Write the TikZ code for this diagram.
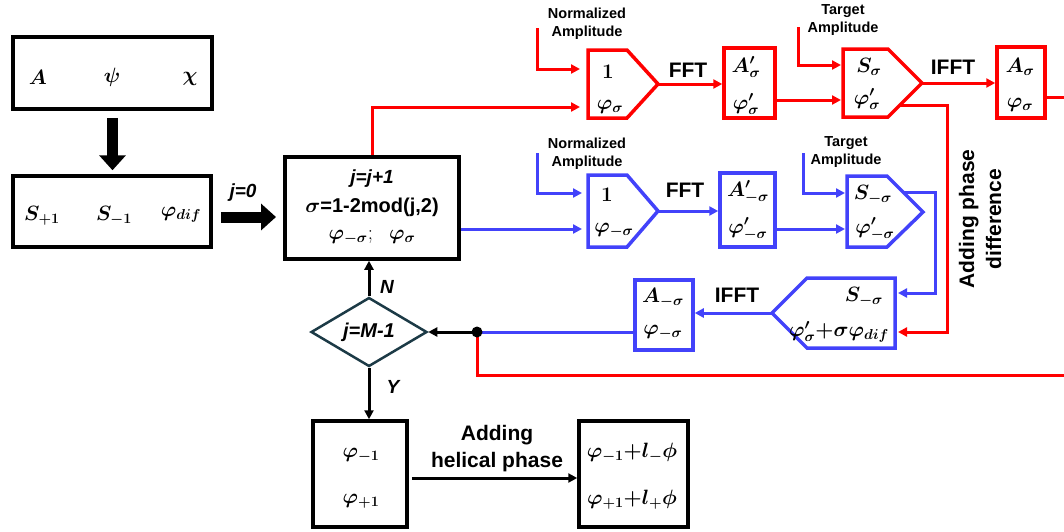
\documentclass[tikz,border=0pt]{standalone}
\usepackage{amsmath,bm}
\usepackage{fontspec}
\newfontfamily\arial{Liberation Sans}
\usetikzlibrary{arrows.meta,shapes.geometric,calc}
\definecolor{myred}{RGB}{255,0,0}
\definecolor{myblue}{RGB}{66,66,250}
\definecolor{dslate}{RGB}{28,58,70}
\tikzset{
 box/.style={draw, line width=3.5pt, inner sep=0pt},
 rbox/.style={box, draw=myred},
 bbox/.style={box, draw=myblue},
 mth/.style={inner sep=0pt, font=\fontsize{20.74}{24}\selectfont},
 bigm/.style={inner sep=0pt, font=\fontsize{20.74}{24}\selectfont},
 lab/.style={inner sep=0pt, font=\arial\bfseries\fontsize{21}{27}\selectfont, align=center},
 slab/.style={inner sep=0pt, font=\arial\bfseries\fontsize{14.5}{18}\selectfont, align=center},
 ilab/.style={inner sep=0pt, font=\arial\bfseries\itshape\fontsize{19}{22}\selectfont},
 tip/.style={-{Triangle[length=9pt,width=9pt]}},
 rline/.style={draw=myred, line width=3pt},
 bline/.style={draw=myblue, line width=3pt},
 kline/.style={draw=black, line width=3pt},
 bigarrow/.style={line width=11pt, -{Triangle[length=15pt,width=26pt]}},
 pent/.style={line width=3.5pt, line join=miter},
}
\begin{document}
\begin{tikzpicture}[x=1pt,y=-1pt]
\useasboundingbox (0,0) rectangle (1064,531);

% ---- left boxes
\node[box, minimum width=199pt, minimum height=72pt] (b1) at (112.5,73) {};
\node[bigm] (tA) at (38,77) {$\bm{A}$};
\node[bigm] (tpsi) at (112,77) {$\bm{\psi}$};
\node[bigm] (tchi) at (190,79) {$\bm{\chi}$};

\node[box, minimum width=198pt, minimum height=71pt] (b2) at (112,211.5) {};
\node[bigm] (tS1) at (42,216) {$\bm{S_{+1}}$};
\node[bigm] (tS2) at (114,216) {$\bm{S_{-1}}$};
\node[bigm] (tpd) at (181,215) {$\bm{\varphi_{dif}}$};

\draw[bigarrow, shorten <=7pt, shorten >=4pt] (b1.south) -- (b1.south |- b2.north);

\coordinate (j0) at (0,217);
\draw[bigarrow, shorten <=8pt, shorten >=9pt] (b2.east |- j0) -- (285,217) coordinate (j0e);
\node[ilab] (lj0) at (243,193) {j=0};

% ---- middle box
\node[box, minimum width=174pt, minimum height=102pt] (mid) at (372,208) {};
\node[ilab] (mj) at (372,179) {j=j+1};
\node[inner sep=0pt, font=\arial\bfseries\fontsize{20}{22}\selectfont] (ms) at (372,207) {$\bm{\sigma}$=1-2mod(j,2)};
\node[bigm] (mp) at (372,237) {$\bm{\varphi_{-\sigma}};\ \ \bm{\varphi_\sigma}$};

% ---- red row
\draw[pent, draw=myred] (588,50) -- (627,50) -- (658,84) -- (627,118) -- (588,118) -- cycle;
\coordinate (p1t) at (658,84);
\coordinate (p1a) at (580,69);
\coordinate (p1b) at (580,107);
\node[mth] (p1x) at (608,72) {$\bm{1}$};
\node[mth] (p1y) at (610,107) {$\bm{\varphi_\sigma}$};

\node[rbox, minimum width=51pt, minimum height=70pt] (r1) at (749.5,83) {};
\node[mth] (r1x) at (746,67) {$\bm{A'_\sigma}$};
\node[mth] (r1y) at (746,104) {$\bm{\varphi'_\sigma}$};

\draw[pent, draw=myred] (843,49) -- (888,49) -- (922,83) -- (888,117) -- (843,117) -- cycle;
\coordinate (p2t) at (922,83);
\coordinate (p2a) at (841,65);
\coordinate (p2b) at (841,100);
\coordinate (p2o) at (900,105);
\node[mth] (p2x) at (869,67) {$\bm{S_\sigma}$};
\node[mth] (p2y) at (867,99) {$\bm{\varphi'_\sigma}$};

\node[rbox, minimum width=48pt, minimum height=71pt] (r2) at (1021,82.5) {};
\node[mth] (r2x) at (1020,67) {$\bm{A_\sigma}$};
\node[mth] (r2y) at (1020,105) {$\bm{\varphi_\sigma}$};

\node[lab] (fft1) at (688,70) {FFT};
\node[lab] (ifft1) at (953,67) {IFFT};
\node[slab] (nl1) at (587,24) {Normalized\\Amplitude};
\node[slab] (tl1) at (843,20) {Target\\Amplitude};

\coordinate (n1) at (537,28);
\coordinate (n2) at (798,27);
\draw[rline, tip] (mid.north) |- (p1b);
\draw[rline, tip] (n1) |- (p1a);
\draw[rline, tip] (p1t) -- (r1.west |- p1t);
\draw[rline, tip] (r1.east |- p2b) -- (p2b);
\draw[rline, tip] (n2) |- (p2a);
\draw[rline, tip] (p2t) -- (r2.west |- p2t);

% ---- blue row
\draw[pent, draw=myblue] (588,175) -- (627,175) -- (658,211) -- (627,247) -- (588,247) -- cycle;
\coordinate (p3t) at (658,211);
\coordinate (p3a) at (582,193);
\coordinate (p3b) at (582,229);
\node[mth] (p3x) at (607,195) {$\bm{1}$};
\node[mth] (p3y) at (614,230) {$\bm{\varphi_{-\sigma}}$};

\node[bbox, minimum width=55pt, minimum height=74pt] (b3) at (747.5,210) {};
\node[mth] (b3x) at (748,192) {$\bm{A'_{-\sigma}}$};
\node[mth] (b3y) at (748,229) {$\bm{\varphi'_{-\sigma}}$};

\draw[pent, draw=myblue] (847,176) -- (887,176) -- (923,212) -- (887,247) -- (847,247) -- cycle;
\coordinate (p4t) at (923,212);
\coordinate (p4a) at (845,193);
\coordinate (p4b) at (845,229);
\coordinate (p4o) at (903,192);
\node[mth] (p4x) at (873,195) {$\bm{S_{-\sigma}}$};
\node[mth] (p4y) at (875,229) {$\bm{\varphi'_{-\sigma}}$};

\draw[pent, draw=myblue] (895,278) -- (807,278) -- (772,313) -- (807,348) -- (895,348) -- cycle;
\coordinate (p5t) at (772,313);
\coordinate (p5a) at (898,293);
\coordinate (p5b) at (898,332);
\node[mth] (p5x) at (864,297) {$\bm{S_{-\sigma}}$};
\node[mth] (p5y) at (839,332) {$\bm{\varphi'_\sigma{+}\sigma\varphi_{dif}}$};

\node[bbox, minimum width=58pt, minimum height=70pt] (b4) at (664,315) {};
\node[mth] (b4x) at (663,298) {$\bm{A_{-\sigma}}$};
\node[mth] (b4y) at (663,332) {$\bm{\varphi_{-\sigma}}$};

\node[lab] (fft2) at (685,190) {FFT};
\node[lab] (ifft2) at (737,295) {IFFT};
\node[slab] (nl3) at (587,154) {Normalized\\Amplitude};
\node[slab] (tl4) at (846,152) {Target\\Amplitude};
\node[lab, rotate=90] (apd) at (980,219) {Adding phase\\difference};

\coordinate (n3) at (537,153);
\coordinate (n4) at (803,153);
\coordinate (bx) at (935,0);
\coordinate (rx) at (947,0);
\coordinate (dot) at (477,332);

\draw[bline, tip] (mid.east |- p3b) -- (p3b);
\draw[bline, tip] (n3) |- (p3a);
\draw[bline, tip] (p3t) -- (b3.west |- p3t);
\draw[bline, tip] (b3.east |- p4b) -- (p4b);
\draw[bline, tip] (n4) |- (p4a);
\draw[bline, tip] (p4o) -| (bx |- p5a) -- (p5a);
\draw[bline, tip] (p5t) -- (b4.east |- p5t);
\draw[bline] (b4.west |- dot) -- (dot);

\draw[rline, tip] (p2o) -| (rx |- p5b) -- (p5b);
\coordinate (ry) at (0,97);
\draw[rline] (r2.east |- ry) -- (1080,97) -- (1080,375) -- (477,375) -- (dot);

% ---- decision and output
\node[diamond, draw=dslate, line width=2.5pt, aspect=2, inner sep=0pt,
      minimum width=116pt, minimum height=69pt,
      font=\arial\bfseries\itshape\fontsize{20}{22}\selectfont] (dia) at (369,332) {j=M-1};
\fill (dot) circle (5.5pt);
\draw[kline, tip] (dot) -- (dia.east);
\draw[kline, tip] (dia.north) -- (dia.north |- mid.south);
\node[ilab] (lN) at (387,287) {N};

\node[box, minimum width=94pt, minimum height=106pt] (b5) at (360,474) {};
\node[mth] (b5x) at (361,455) {$\bm{\varphi_{-1}}$};
\node[mth] (b5y) at (361,501) {$\bm{\varphi_{+1}}$};
\draw[kline, tip] (dia.south) -- (dia.south |- b5.north);
\node[ilab] (lY) at (393,387) {Y};

\node[box, minimum width=109pt, minimum height=106pt] (b6) at (633.5,474) {};
\node[mth] (b6x) at (632,453) {$\bm{\varphi_{-1}{+}l_{-}\phi}$};
\node[mth] (b6y) at (632,500) {$\bm{\varphi_{+1}{+}l_{+}\phi}$};

\coordinate (hy) at (0,478);
\draw[kline, tip, shorten <=3pt] (b5.east |- hy) -- (b6.west |- hy);
\node[lab] (lh) at (497,449) {Adding\\helical phase};
\end{tikzpicture}
\end{document}
